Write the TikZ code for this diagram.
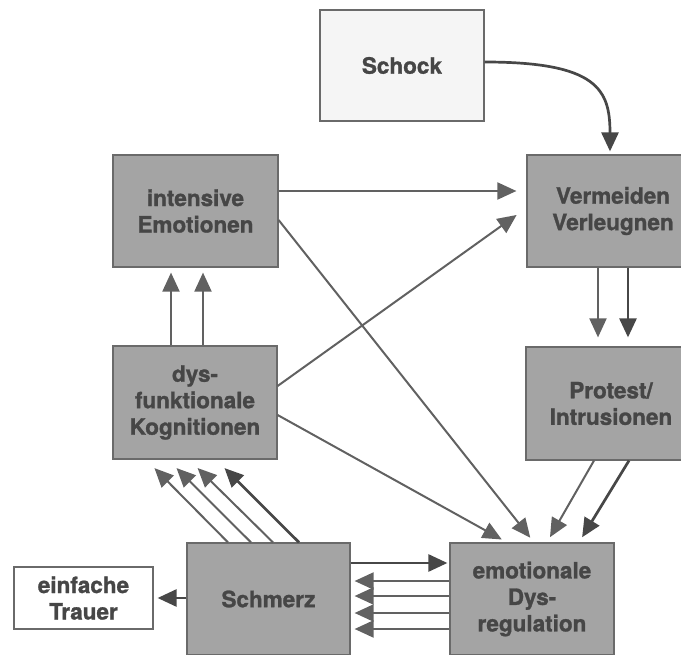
\documentclass[tikz,border=0pt]{standalone}
\usepackage{fontspec}
\setmainfont{TeX Gyre Heros}[BoldFeatures={FakeBold=1.2}]
\usetikzlibrary{arrows.meta}
\definecolor{boxgray}{HTML}{A4A4A4}
\definecolor{edgegray}{HTML}{6A6A6A}
\definecolor{textgray}{HTML}{464646}
\definecolor{linegray}{HTML}{616161}
\definecolor{linedark}{HTML}{474747}
\definecolor{paleback}{HTML}{F5F5F5}
\begin{document}
\begin{tikzpicture}[x=1pt,y=-1pt,
  box/.style={draw=edgegray, line width=1.2pt, fill=boxgray, text=textgray,
    font=\bfseries\fontsize{22.5}{26.5}\selectfont, align=center, inner sep=0pt},
  arr/.style={draw=linegray, line width=2pt, -{Triangle[length=19pt,width=17pt]}},
  arrd/.style={draw=linedark, line width=2.7pt, -{Triangle[length=19pt,width=17pt]}}]
\useasboundingbox (0,0) rectangle (681,655);
\clip (0,0) rectangle (681,655);

% boxes
\node[box, fill=paleback, minimum width=164pt, minimum height=111pt] (schock) at (402,65.5) {Schock};
\node[box, minimum width=165pt, minimum height=112pt] (emo) at (195.5,211) {intensive\\Emotionen};
\node[box, minimum width=172pt, minimum height=112pt] (verm) at (613,211) {Vermeiden\\Verleugnen};
\node[box, minimum width=164pt, minimum height=113pt] (kog) at (195,402.5) {dys-\\funktionale\\Kognitionen};
\node[box, minimum width=170pt, minimum height=113pt] (prot) at (611,403.5) {Protest/\\Intrusionen};
\node[box, minimum width=163pt, minimum height=112pt] (schmerz) at (268.5,599) {Schmerz};
\node[box, minimum width=164pt, minimum height=112pt] (dys) at (532,599) {emotionale\\Dys-\\regulation};
\node[box, fill=white, minimum width=139pt, minimum height=62pt] (trauer) at (83.5,598) {einfache\\Trauer};

% Schock into avoidance
\draw[arrd, shorten >=3pt] (schock.east |- 0,62) .. controls (598,62) and (610,90) .. (verm.north -| 610,0);

% from intensive emotions
\draw[arr, shorten >=10pt] (emo.east |- 0,191) -- (verm.west |- 0,191);
\draw[arr, shorten >=6pt] (emo.east |- 0,220) -- (dys.north -| 534,0);

% from dysfunctional cognitions
\draw[arr, shorten >=12pt] (kog.east |- 0,386) -- (verm.west |- 0,208);
\draw[arr, shorten >=6pt] (kog.east |- 0,415) -- (dys.north -| 507,0);
\draw[arr, shorten >=5pt] (kog.north -| 171,0) -- (emo.south -| 171,0);
\draw[arr, shorten >=5pt] (kog.north -| 203,0) -- (emo.south -| 203,0);

% avoidance to protest
\draw[arr, shorten >=9pt] (verm.south -| 598,0) -- (prot.north -| 598,0);
\draw[arrd, shorten >=9pt] (verm.south -| 628,0) -- (prot.north -| 628,0);

% protest into dysregulation
\draw[arr, shorten >=6pt] (prot.south -| 594,0) -- (dys.north -| 547,0);
\draw[arrd, shorten >=6pt] (prot.south -| 629,0) -- (dys.north -| 579,0);

% pain up to cognitions
\draw[arr, shorten >=12pt] (schmerz.north -| 228,0) -- (kog.south -| 146,0);
\draw[arr, shorten >=12pt] (schmerz.north -| 251,0) -- (kog.south -| 168,0);
\draw[arr, shorten >=12pt] (schmerz.north -| 273,0) -- (kog.south -| 189,0);
\draw[arrd, shorten >=12pt] (schmerz.north -| 299,0) -- (kog.south -| 216,0);

% pain and dysregulation
\draw[arrd, shorten >=2pt] (schmerz.east |- 0,563) -- (dys.west |- 0,563);
\foreach \yy in {581,596,613,629}
  \draw[arr, shorten >=4pt] (dys.west |- 0,\yy) -- (schmerz.east |- 0,\yy);

% pain to simple grief
\draw[arrd, shorten >=4pt] (schmerz.west |- 0,598) -- (trauer.east |- 0,598);
\end{tikzpicture}
\end{document}
